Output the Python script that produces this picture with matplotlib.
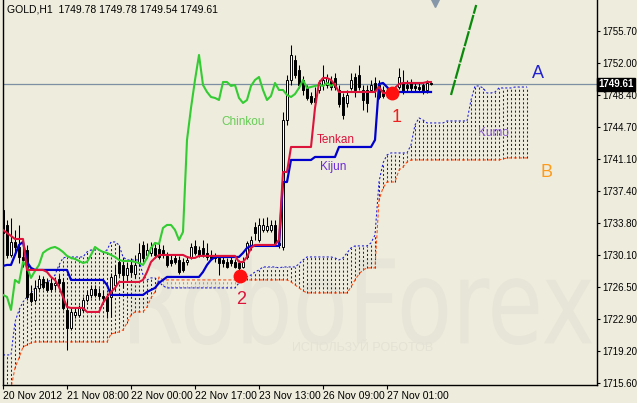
import numpy as np
import matplotlib.pyplot as plt
from matplotlib.textpath import TextPath
from matplotlib.patches import PathPatch
from matplotlib.transforms import Affine2D, IdentityTransform
from matplotlib.font_manager import FontProperties

plt.rcParams['font.family'] = ['Liberation Sans', 'DejaVu Sans']

# ---- data (GOLD H1, one value per bar) ----
opens = [1735.29, 1733.58, 1730.16, 1731.64, 1731.07, 1729.93, 1730.73, 1725.83, 1725.03, 1726.40,
         1727.42, 1727.08, 1726.97, 1726.74, 1727.42, 1727.08, 1723.89, 1721.84, 1723.32, 1723.32,
         1723.89, 1725.03, 1725.60, 1726.28, 1725.83, 1725.49, 1725.37, 1725.37, 1726.74, 1729.36,
         1729.02, 1727.88, 1729.02, 1727.99, 1729.25, 1731.30, 1730.16, 1730.39, 1730.96, 1730.84,
         1730.73, 1730.05, 1729.59, 1729.82, 1729.59, 1729.36, 1729.36, 1729.93, 1731.19, 1730.73,
         1730.96, 1730.39, 1730.16, 1729.93, 1729.82, 1729.59, 1729.36, 1729.59, 1729.36, 1729.25,
         1728.79, 1729.93, 1731.30, 1733.35, 1731.87, 1733.01, 1733.01, 1733.01, 1733.58, 1731.53,
         1731.07, 1745.55, 1750.11, 1752.39, 1751.25, 1750.11, 1749.20, 1748.29, 1748.06, 1748.97,
         1749.54, 1749.54, 1750.00, 1750.34, 1748.97, 1748.17, 1747.49, 1749.20, 1750.45, 1750.68,
         1748.97, 1748.97, 1748.97, 1749.77, 1749.54, 1748.97, 1748.74, 1748.51, 1748.74, 1749.31,
         1749.77, 1749.54, 1749.77, 1749.43, 1749.31, 1749.54, 1748.97, 1749.78]
highs = [1735.52, 1734.15, 1734.38, 1733.01, 1733.58, 1731.87, 1731.30, 1726.74, 1727.31, 1727.88,
         1727.77, 1727.54, 1727.54, 1727.65, 1727.88, 1727.54, 1725.03, 1724.12, 1724.12, 1724.46,
         1725.37, 1726.17, 1726.74, 1726.74, 1726.40, 1726.17, 1725.83, 1728.11, 1729.02, 1731.30,
         1729.82, 1729.36, 1729.82, 1730.16, 1731.53, 1731.76, 1731.53, 1731.64, 1731.41, 1731.53,
         1731.30, 1730.50, 1730.16, 1730.27, 1730.05, 1729.82, 1730.05, 1731.53, 1731.87, 1731.19,
         1731.87, 1731.53, 1730.73, 1730.39, 1730.16, 1729.93, 1729.82, 1729.93, 1729.70, 1729.59,
         1729.93, 1731.76, 1732.33, 1733.92, 1734.38, 1734.38, 1734.49, 1734.15, 1734.15, 1732.10,
         1746.46, 1750.68, 1754.10, 1752.96, 1751.82, 1750.57, 1749.54, 1748.74, 1749.31, 1750.11,
         1751.82, 1750.79, 1750.57, 1750.91, 1749.54, 1748.63, 1748.97, 1750.91, 1750.91, 1751.82,
         1749.54, 1749.54, 1750.11, 1750.45, 1750.11, 1749.43, 1749.20, 1749.20, 1749.43, 1751.48,
         1751.25, 1750.11, 1750.22, 1749.88, 1749.88, 1749.77, 1750.11, 1749.78]
lows = [1729.36, 1729.82, 1729.93, 1730.16, 1729.25, 1728.79, 1725.03, 1724.69, 1724.80, 1726.17,
        1726.28, 1725.94, 1725.94, 1726.17, 1726.51, 1723.89, 1719.33, 1721.61, 1722.98, 1723.09,
        1723.66, 1724.80, 1725.26, 1725.37, 1725.14, 1724.80, 1722.98, 1723.09, 1726.17, 1727.77,
        1726.40, 1727.31, 1727.77, 1727.54, 1728.91, 1729.36, 1729.82, 1730.05, 1729.82, 1729.70,
        1729.82, 1728.79, 1728.91, 1729.13, 1727.99, 1728.22, 1729.02, 1729.70, 1730.16, 1729.93,
        1729.93, 1729.59, 1729.59, 1729.36, 1727.88, 1728.79, 1728.68, 1728.91, 1728.68, 1728.45,
        1728.68, 1729.70, 1730.73, 1731.87, 1731.64, 1732.78, 1732.78, 1732.78, 1731.30, 1730.96,
        1730.73, 1744.98, 1749.54, 1750.34, 1749.20, 1748.40, 1747.83, 1747.37, 1747.03, 1748.63,
        1748.97, 1749.20, 1748.97, 1748.97, 1747.03, 1745.66, 1747.03, 1748.97, 1748.17, 1748.97,
        1746.69, 1746.46, 1748.74, 1748.17, 1747.94, 1748.06, 1748.17, 1748.17, 1748.40, 1749.08,
        1748.51, 1748.86, 1748.86, 1748.86, 1748.74, 1748.51, 1748.63, 1749.54]
closes = [1732.67, 1730.16, 1731.64, 1731.07, 1729.93, 1729.59, 1725.37, 1724.92, 1726.40, 1727.42,
          1726.51, 1726.17, 1726.28, 1726.97, 1726.97, 1724.12, 1721.84, 1723.66, 1723.66, 1724.12,
          1725.03, 1725.60, 1726.28, 1725.60, 1725.49, 1725.26, 1723.78, 1727.65, 1727.88, 1728.11,
          1727.88, 1728.68, 1728.22, 1729.02, 1730.39, 1729.82, 1730.73, 1731.07, 1730.16, 1729.93,
          1730.16, 1729.02, 1729.25, 1729.36, 1728.22, 1728.45, 1729.59, 1731.07, 1730.39, 1730.16,
          1730.27, 1729.93, 1729.82, 1729.82, 1729.25, 1729.25, 1728.79, 1729.25, 1728.79, 1728.68,
          1729.36, 1731.53, 1731.87, 1732.67, 1733.58, 1733.58, 1733.47, 1733.58, 1731.53, 1731.30,
          1745.55, 1750.11, 1752.96, 1750.68, 1749.54, 1748.97, 1748.06, 1747.60, 1747.60, 1749.77,
          1750.11, 1750.34, 1749.31, 1749.31, 1747.37, 1746.12, 1748.40, 1750.11, 1748.97, 1749.31,
          1747.83, 1747.49, 1749.54, 1748.97, 1748.17, 1748.29, 1748.40, 1748.74, 1748.97, 1750.45,
          1748.74, 1749.20, 1749.20, 1749.20, 1749.08, 1748.74, 1749.77, 1749.61]

tenkan = [1733.01, 1732.67, 1732.33, 1731.98, 1731.98, 1731.98, 1728.45, 1728.45, 1728.45, 1728.45,
          1728.45, 1728.22, 1727.65, 1727.31, 1726.51, 1725.37, 1724.23, 1724.12, 1724.12, 1724.12,
          1724.12, 1723.66, 1723.66, 1723.66, 1723.66, 1724.69, 1725.37, 1725.94, 1726.40, 1727.08,
          1727.08, 1727.08, 1727.08, 1727.08, 1727.08, 1727.31, 1728.22, 1729.36, 1729.82, 1730.16,
          1730.16, 1730.16, 1730.16, 1730.16, 1730.16, 1730.16, 1729.93, 1729.82, 1729.82, 1730.05,
          1730.05, 1730.05, 1730.05, 1730.05, 1730.05, 1730.05, 1730.05, 1730.05, 1730.05, 1729.36,
          1729.36, 1729.93, 1730.96, 1731.30, 1731.30, 1731.30, 1731.30, 1731.30, 1731.30, 1731.87,
          1739.62, 1739.62, 1742.47, 1742.47, 1742.47, 1742.47, 1742.47, 1742.47, 1746.92, 1749.77,
          1750.34, 1750.34, 1750.11, 1749.54, 1748.74, 1748.74, 1748.74, 1748.74, 1748.74, 1748.74,
          1748.74, 1748.74, 1748.74, 1748.74, 1749.31, 1748.63, 1748.63, 1748.63, 1749.20, 1749.65,
          1749.77, 1749.77, 1749.77, 1749.77, 1749.77, 1749.77, 1749.88, 1749.88]
kijun = [1728.91, 1729.02, 1729.02, 1730.16, 1731.30, 1731.64, 1729.36, 1728.68, 1728.45, 1728.45,
         1728.45, 1728.45, 1728.45, 1728.45, 1728.45, 1728.45, 1728.45, 1727.31, 1727.31, 1727.31,
         1727.31, 1727.31, 1727.31, 1727.31, 1727.31, 1727.31, 1726.74, 1725.60, 1725.60, 1725.60,
         1725.60, 1725.60, 1725.60, 1725.60, 1725.60, 1725.60, 1725.94, 1726.17, 1726.40, 1726.97,
         1727.31, 1727.65, 1727.65, 1727.65, 1727.65, 1727.65, 1727.65, 1727.65, 1727.65, 1727.65,
         1728.22, 1729.02, 1729.59, 1729.93, 1729.93, 1729.93, 1729.93, 1729.93, 1729.93, 1729.93,
         1730.39, 1730.96, 1731.19, 1731.19, 1731.19, 1731.19, 1731.19, 1731.19, 1731.19, 1731.19,
         1738.48, 1738.48, 1740.99, 1740.99, 1740.99, 1740.99, 1740.99, 1740.99, 1741.33, 1741.33,
         1741.33, 1741.33, 1741.33, 1741.33, 1742.47, 1742.47, 1742.47, 1742.47, 1742.47, 1742.47,
         1742.47, 1742.47, 1742.47, 1743.27, 1749.65, 1749.77, 1749.31, 1748.74, 1748.74, 1748.74,
         1748.74, 1748.74, 1748.74, 1748.74, 1748.74, 1748.74, 1748.74, 1748.74]
chinkou = [1725.60, 1725.37, 1723.89, 1727.31, 1726.97, 1729.36, 1728.79, 1727.54, 1728.34, 1729.02,
           1730.39, 1730.73, 1730.96, 1731.07, 1730.84, 1730.50, 1730.05, 1729.82, 1729.70, 1729.47,
           1729.25, 1729.36, 1730.16, 1731.07, 1730.73, 1730.50, 1730.39, 1730.16, 1729.93, 1729.59,
           1729.47, 1729.47, 1729.47, 1729.36, 1729.25, 1729.02, 1729.82, 1730.96, 1731.53, 1731.41,
           1733.24, 1733.58, 1733.58, 1733.01, 1731.87, 1732.78, 1743.27, 1746.92, 1750.11, 1752.96,
           1749.54, 1748.74, 1748.17, 1748.06, 1747.83, 1749.88, 1749.88, 1749.43, 1749.54, 1748.06,
           1747.49, 1747.83, 1749.43, 1750.11, 1750.45, 1748.97, 1747.83, 1748.29, 1749.77, 1748.97,
           1748.97, 1748.40, 1748.17, 1748.51, 1749.20, 1750.11, 1749.20, 1749.31, 1749.43, 1749.54,
           1749.43, 1749.77, 1749.43, 1749.65]
senkou_a = [1718.76, 1718.76, 1718.76, 1722.52, 1723.89, 1724.80, 1725.37, 1725.83, 1726.40, 1726.63,
            1726.85, 1727.08, 1727.31, 1727.88, 1729.02, 1729.82, 1729.93, 1729.93, 1729.93, 1729.93,
            1729.93, 1730.50, 1730.73, 1730.73, 1730.73, 1730.50, 1730.73, 1731.64, 1731.64, 1731.30,
            1729.93, 1729.59, 1729.59, 1729.59, 1729.59, 1727.88, 1727.31, 1727.54, 1727.54, 1727.08,
            1726.63, 1726.40, 1726.40, 1726.40, 1726.40, 1726.40, 1726.40, 1726.40, 1726.40, 1726.40,
            1726.40, 1726.40, 1726.40, 1726.40, 1726.40, 1726.40, 1726.40, 1726.40, 1726.40, 1726.97,
            1727.54, 1727.65, 1727.88, 1728.22, 1728.45, 1728.79, 1728.79, 1728.79, 1728.79, 1728.68,
            1728.79, 1728.79, 1728.79, 1728.79, 1729.13, 1729.59, 1729.93, 1729.93, 1729.93, 1729.93,
            1729.93, 1729.93, 1729.93, 1729.82, 1729.59, 1729.82, 1730.39, 1730.96, 1731.19, 1731.19,
            1731.19, 1731.19, 1731.53, 1732.44, 1738.48, 1740.65, 1741.56, 1741.79, 1741.79, 1741.79,
            1741.79, 1741.79, 1742.70, 1744.98, 1745.78, 1745.55, 1745.21, 1745.21, 1745.21, 1745.21,
            1745.21, 1745.44, 1745.44, 1745.44, 1745.44, 1745.44, 1745.44, 1747.83, 1749.43, 1749.43,
            1749.20, 1748.63, 1748.63, 1748.74, 1749.20, 1749.20, 1749.20, 1749.20, 1749.31, 1749.31,
            1749.31, 1749.31]
senkou_b = [1715.00, 1715.00, 1715.00, 1717.28, 1718.42, 1719.67, 1719.90, 1720.13, 1720.24, 1720.24,
            1720.24, 1720.24, 1720.24, 1720.24, 1720.24, 1720.24, 1720.24, 1720.24, 1720.24, 1720.24,
            1720.24, 1720.24, 1720.24, 1720.24, 1720.24, 1720.24, 1720.24, 1721.15, 1721.27, 1721.38,
            1721.61, 1722.41, 1723.32, 1723.66, 1723.66, 1723.66, 1724.23, 1725.26, 1725.94, 1727.65,
            1727.31, 1727.31, 1727.31, 1727.31, 1727.31, 1727.31, 1727.31, 1727.31, 1727.31, 1727.31,
            1727.31, 1727.31, 1727.31, 1727.31, 1727.31, 1727.31, 1727.31, 1727.31, 1727.31, 1727.31,
            1727.31, 1727.31, 1727.31, 1727.31, 1727.31, 1727.31, 1727.31, 1727.31, 1727.31, 1727.31,
            1727.31, 1727.31, 1727.08, 1726.74, 1726.40, 1726.06, 1725.83, 1725.83, 1725.83, 1725.83,
            1725.83, 1725.83, 1725.83, 1725.83, 1725.83, 1725.83, 1725.83, 1726.51, 1727.31, 1727.99,
            1728.45, 1728.68, 1728.68, 1728.68, 1736.43, 1737.80, 1738.48, 1738.48, 1738.48, 1739.85,
            1740.19, 1740.76, 1740.99, 1740.99, 1740.99, 1740.99, 1740.99, 1740.99, 1740.99, 1740.99,
            1740.99, 1740.99, 1740.99, 1740.99, 1740.99, 1740.99, 1740.99, 1740.99, 1740.99, 1740.99,
            1740.99, 1740.99, 1740.99, 1740.99, 1740.99, 1741.10, 1741.22, 1741.22, 1741.22, 1741.22,
            1741.22, 1741.22]

last_price = 1749.61
y_ticks = [1755.70, 1752.00, 1748.40, 1744.70, 1741.10, 1737.40, 1733.80, 1730.10,
           1726.50, 1722.90, 1719.20, 1715.60]
x_tick_bars = [0, 16, 32, 48, 64, 80, 96]
x_tick_labels = ['20 Nov 2012', '21 Nov 08:00', '22 Nov 00:00', '22 Nov 17:00',
                 '23 Nov 13:00', '26 Nov 09:00', '27 Nov 01:00']
# signal points and forecast line
dots_x = [97.25, 59.25]
dots_y = [1748.63, 1727.77]
trend_x = [112.0, 118.3]
trend_y = [1748.40, 1758.66]

bg = '#eeecdc'
fig = plt.figure(figsize=(6.37, 4.03), dpi=100, facecolor=bg)
ax = fig.add_axes([3 / 637, 18 / 403, 594 / 637, 385 / 403], facecolor=bg)

# watermark
fp = FontProperties(family='DejaVu Sans')
tp = TextPath((0, 0), 'RoboForex', size=100, prop=fp)
ext = tp.get_extents()
tr = Affine2D().translate(-ext.x0, -ext.y0).scale(462 / ext.width, 90 / ext.height).translate(130, 58)
ax.add_patch(PathPatch(tr.transform_path(tp), transform=IdentityTransform(),
                       fc='#e6e5d7', ec='none', zorder=0.5))
fig.text(292 / 637, 1 - 348 / 403, 'ИСПОЛЬЗУЙ РОБОТОВ', fontsize=9, color='#e3e2d4',
         va='center', zorder=0.6)

# kumo
a = np.array(senkou_a)
b = np.array(senkou_b)
cb = np.arange(len(a))
up = a >= b
ax.vlines(cb[up], b[up], a[up], colors='#1515d8', linestyles=(0, (2, 2)), lw=0.75, zorder=1)
ax.vlines(cb[~up], a[~up], b[~up], colors='#ff7a55', linestyles=(0, (2, 2)), lw=0.75, zorder=1)
ax.plot(cb, a, color='#1515d8', lw=0.75, ls=(0, (2, 2)), zorder=1.2)
ax.plot(cb, b, color='#ff4a10', lw=0.75, ls=(0, (3, 2)), zorder=1.2)

# candles
o = np.array(opens); h = np.array(highs); l = np.array(lows); c = np.array(closes)
xb = np.arange(len(c))
ax.vlines(xb, l, h, color='black', lw=0.75, zorder=3)
bull = c > o
ax.bar(xb[bull], c[bull] - o[bull], bottom=o[bull], width=0.6, fc='white', ec='black', lw=0.7, zorder=3.5)
ax.bar(xb[~bull], o[~bull] - c[~bull], bottom=c[~bull], width=0.6, fc='black', ec='black', lw=0.7, zorder=3.5)

ax.axhline(last_price, color='#7d8fa3', lw=0.9, zorder=2)

# ichimoku lines
ax.plot(np.arange(len(chinkou)), chinkou, color='#33cc33', lw=1.5, zorder=4)
ax.plot(np.arange(len(kijun)), kijun, color='#0000cd', lw=1.6, zorder=4.2)
ax.plot(np.arange(len(tenkan)), tenkan, color='#dc143c', lw=1.5, zorder=4.3)
ax.plot(trend_x, trend_y, color='#0a8a0a', lw=1.6, ls=(0, (7, 0.6)), zorder=4)
ax.plot(dots_x, dots_y, 'o', color='#ff1010', ms=9, mec='#ff1010', zorder=6)
ax.plot([108.0], [1758.85], marker='v', color='#8797aa', ms=6, clip_on=False, zorder=6)

# labels
ax.text(54.5, 1745.32, 'Chinkou', color='#66cc55', fontsize=8.5, va='center', zorder=7)
ax.text(78.5, 1743.27, 'Tenkan', color='#dc143c', fontsize=8.5, va='center', zorder=7)
ax.text(79.3, 1740.19, 'Kijun', color='#6a2ad8', fontsize=8.5, va='center', zorder=7)
ax.text(118.8, 1744.07, 'Kumo', color='#8a5ad0', fontsize=8.5, va='center', zorder=7)
ax.text(133.8, 1750.9, 'A', color='#2222d0', fontsize=13, ha='center', va='center', zorder=7)
ax.text(135.8, 1739.51, 'B', color='#ff9a1a', fontsize=13, ha='center', va='center', zorder=7)
ax.text(98.5, 1745.78, '1', color='#ee2020', fontsize=13, ha='center', va='center', zorder=7)
ax.text(59.5, 1725.03, '2', color='#dc143c', fontsize=13, ha='center', va='center', zorder=7)

fig.text(7 / 637, 1 - 10 / 403, 'GOLD,H1  1749.78 1749.78 1749.54 1749.61',
         fontsize=7.5, va='center', color='black')

# axes
ax.set_xlim(0, 148.5)
ax.set_ylim(1715.33, 1759.23)
ax.spines['top'].set_visible(False)
for s in ['left', 'right', 'bottom']:
    ax.spines[s].set_linewidth(1.0)
ax.yaxis.tick_right()
ax.set_yticks(y_ticks)
ax.set_yticklabels(['%.2f' % v for v in y_ticks])
ax.tick_params(axis='y', direction='out', length=2.5, pad=1.0, labelsize=7, colors='black')
ax.set_xticks(x_tick_bars)
ax.set_xticklabels(x_tick_labels)
ax.tick_params(axis='x', direction='out', length=3, pad=1.5, labelsize=7.5)
for lbl in ax.get_xticklabels():
    lbl.set_ha('left')

ax.text(1.002, last_price, '%.2f' % last_price, transform=ax.get_yaxis_transform(),
        color='white', fontsize=7, fontweight='bold', va='center', ha='left', zorder=10,
        bbox=dict(boxstyle='square,pad=0.15', fc='black', ec='black'), clip_on=False)

fig.savefig('out.png', dpi=100, facecolor=bg)
